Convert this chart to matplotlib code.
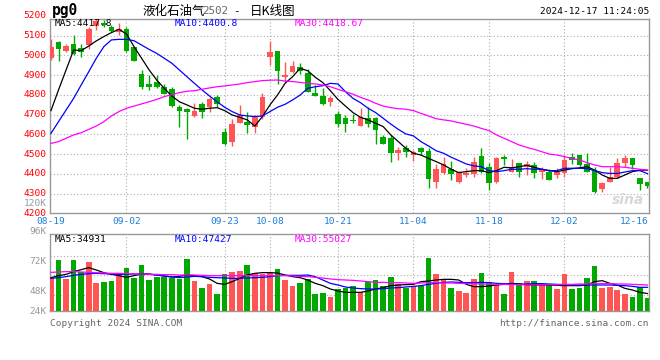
import matplotlib.pyplot as plt
from matplotlib.transforms import blended_transform_factory

# daily candles, 2024-08-19 .. 2024-12-17 (80 trading days)
opens = [4985, 5068, 5024, 5058, 5039, 5052, 5149, 5164, 5142, 5120,
         5134, 5041, 4906, 4855, 4865, 4838, 4828, 4740, 4727, 4693,
         4752, 4737, 4787, 4610, 4563, 4656, 4664, 4636, 4686, 4993,
         5022, 4892, 4914, 4939, 4912, 4809, 4794, 4766, 4701, 4684,
         4674, 4642, 4683, 4685, 4585, 4580, 4507, 4533, 4495, 4533,
         4516, 4360, 4406, 4425, 4360, 4394, 4399, 4492, 4436, 4360,
         4484, 4411, 4453, 4436, 4445, 4411, 4411, 4394, 4406, 4484,
         4495, 4450, 4419, 4321, 4360, 4382, 4457, 4479, 4377, 4357]
highs = [5081, 5074, 5058, 5103, 5058, 5145, 5189, 5179, 5154, 5162,
         5145, 5044, 4926, 4900, 4900, 4855, 4841, 4749, 4732, 4757,
         4766, 4791, 4799, 4630, 4676, 4749, 4715, 4698, 4808, 5074,
         5022, 4968, 4973, 4963, 4929, 4850, 4833, 4794, 4720, 4698,
         4703, 4732, 4737, 4690, 4597, 4597, 4538, 4546, 4521, 4538,
         4529, 4450, 4487, 4467, 4415, 4428, 4487, 4533, 4453, 4487,
         4495, 4474, 4457, 4467, 4462, 4436, 4423, 4428, 4495, 4504,
         4495, 4504, 4436, 4360, 4436, 4479, 4495, 4479, 4380, 4360]
lows = [4976, 4973, 5019, 5000, 4993, 5031, 5128, 5145, 5120, 5103,
        5019, 4973, 4831, 4825, 4833, 4804, 4737, 4636, 4575, 4690,
        4681, 4715, 4740, 4546, 4541, 4656, 4605, 4605, 4680, 4951,
        4855, 4867, 4909, 4906, 4816, 4794, 4749, 4744, 4639, 4614,
        4656, 4642, 4639, 4551, 4551, 4462, 4470, 4484, 4467, 4495,
        4327, 4327, 4399, 4369, 4355, 4382, 4386, 4403, 4318, 4352,
        4445, 4408, 4386, 4394, 4377, 4372, 4369, 4377, 4382, 4450,
        4436, 4411, 4304, 4309, 4358, 4377, 4436, 4423, 4318, 4327]
closes = [5041, 5031, 5047, 5007, 5019, 5134, 5176, 5155, 5125, 5132,
          5024, 4973, 4838, 4841, 4841, 4804, 4744, 4717, 4713, 4720,
          4715, 4777, 4754, 4551, 4652, 4698, 4647, 4686, 4787, 5019,
          4922, 4900, 4946, 4923, 4816, 4794, 4754, 4782, 4652, 4652,
          4666, 4686, 4652, 4622, 4551, 4504, 4521, 4512, 4512, 4512,
          4372, 4425, 4450, 4399, 4411, 4406, 4462, 4408, 4355, 4482,
          4474, 4436, 4411, 4450, 4406, 4419, 4369, 4411, 4470, 4470,
          4445, 4411, 4309, 4355, 4386, 4457, 4479, 4445, 4348, 4338]

ma5 = [4720, 4825, 4926, 5027, 5024, 5047, 5073, 5095, 5115, 5132,
       5108, 5044, 4985, 4926, 4875, 4833, 4794, 4765, 4749, 4732,
       4727, 4732, 4735, 4720, 4698, 4686, 4673, 4642, 4690, 4749,
       4799, 4858, 4892, 4934, 4922, 4889, 4862, 4821, 4777, 4743,
       4710, 4686, 4673, 4656, 4639, 4597, 4563, 4529, 4504, 4495,
       4478, 4462, 4445, 4423, 4406, 4411, 4416, 4416, 4406, 4416,
       4433, 4430, 4436, 4443, 4433, 4423, 4416, 4411, 4419, 4426,
       4430, 4436, 4419, 4394, 4377, 4377, 4394, 4411, 4419, 4418]
ma10 = [4605, 4664, 4723, 4782, 4850, 4917, 4985, 5044, 5078, 5081,
        5081, 5074, 5052, 5030, 5010, 4985, 4960, 4926, 4892, 4858,
        4825, 4794, 4765, 4737, 4715, 4698, 4693, 4690, 4693, 4715,
        4737, 4752, 4774, 4799, 4833, 4841, 4846, 4858, 4855, 4816,
        4782, 4760, 4732, 4710, 4681, 4652, 4625, 4602, 4592, 4563,
        4541, 4517, 4504, 4484, 4467, 4450, 4440, 4436, 4416, 4411,
        4416, 4423, 4423, 4426, 4423, 4423, 4416, 4416, 4428, 4428,
        4428, 4426, 4416, 4406, 4402, 4402, 4409, 4416, 4416, 4401]
ma30 = [4554, 4563, 4580, 4597, 4608, 4625, 4642, 4664, 4693, 4715,
        4732, 4743, 4754, 4765, 4777, 4791, 4801, 4811, 4818, 4821,
        4828, 4835, 4841, 4845, 4850, 4855, 4862, 4867, 4872, 4874,
        4875, 4870, 4867, 4863, 4858, 4855, 4850, 4841, 4828, 4816,
        4803, 4787, 4774, 4757, 4743, 4735, 4730, 4727, 4720, 4706,
        4693, 4679, 4673, 4668, 4659, 4651, 4642, 4630, 4619, 4597,
        4580, 4563, 4546, 4534, 4524, 4512, 4500, 4495, 4487, 4478,
        4470, 4456, 4445, 4436, 4436, 4436, 4433, 4428, 4423, 4419]

# volume in thousands
volume = [66.7, 102, 64.7, 102, 78.7, 98, 55.3, 58, 60, 73.3,
          86, 66, 92, 62, 68.7, 67.3, 66.7, 63.3, 104, 60,
          46, 54, 34, 74, 78, 80.7, 92, 76, 74, 76,
          84, 62, 50, 56, 64, 34, 36, 28.7, 44, 46,
          50, 38.7, 58, 62, 50, 68, 54, 46.7, 50.7, 50,
          106, 74, 62, 46, 40, 36, 64, 76, 57.3, 52,
          34, 78, 56, 60, 60, 52, 52, 44, 74, 44,
          46, 66, 90, 46, 48, 42, 34, 28, 48, 26]
vma5 = [66.7, 70.7, 73.3, 78.7, 82.7, 86.7, 82.0, 76.7, 73.3, 70.7,
        67.3, 70.7, 74.0, 74.0, 72.0, 70.0, 68.0, 69.3, 72.0, 70.7,
        68.7, 64.0, 55.3, 53.3, 58.7, 65.3, 72.0, 75.3, 76.7, 76.7,
        76.0, 72.0, 68.7, 66.7, 62.0, 55.3, 50.7, 44.0, 40.0, 37.3,
        37.3, 37.3, 40.0, 44.0, 46.7, 50.7, 52.0, 52.7, 53.3, 58.7,
        60.0, 62.0, 63.3, 63.3, 62.0, 53.3, 48.7, 48.7, 50.0, 52.0,
        53.3, 55.3, 54.0, 52.7, 52.0, 52.0, 52.0, 51.3, 50.7, 50.7,
        50.7, 52.0, 58.7, 60.7, 55.3, 52.0, 45.3, 42.0, 37.3, 34.9]
vma10 = [65.3, 66.7, 68.7, 71.3, 73.3, 74.7, 75.3, 74.7, 74.0, 73.3,
         73.3, 74.0, 74.0, 73.3, 72.0, 70.0, 68.0, 66.7, 68.0, 69.3,
         68.7, 67.3, 66.7, 66.0, 65.3, 65.3, 66.0, 66.7, 67.3, 68.7,
         70.7, 71.3, 71.3, 71.3, 72.0, 68.7, 62.0, 55.3, 52.0, 48.0,
         46.0, 44.7, 44.0, 44.0, 44.7, 46.0, 46.7, 48.0, 49.3, 50.7,
         53.3, 55.3, 57.3, 58.0, 57.3, 56.7, 56.7, 57.3, 56.7, 55.3,
         54.7, 54.0, 53.3, 54.0, 54.7, 54.7, 54.0, 53.3, 52.7, 52.0,
         52.0, 52.0, 52.0, 52.0, 52.0, 51.3, 50.7, 49.3, 47.3, 47.4]
vma30 = [77.3, 78.0, 78.7, 78.7, 78.0, 77.3, 76.7, 76.0, 75.3, 75.3,
         74.7, 74.0, 74.0, 73.3, 73.3, 72.7, 72.7, 72.0, 72.0, 72.0,
         71.3, 70.7, 70.7, 70.7, 70.7, 70.7, 70.7, 70.7, 70.7, 70.7,
         70.7, 70.7, 70.0, 69.3, 68.7, 67.3, 66.0, 64.0, 62.7, 62.0,
         61.3, 60.0, 58.7, 57.3, 57.3, 56.7, 56.7, 56.0, 55.3, 56.0,
         56.7, 56.7, 56.0, 56.0, 55.3, 54.7, 54.7, 54.0, 54.0, 53.3,
         53.3, 52.7, 52.7, 52.0, 52.0, 52.0, 52.7, 52.7, 53.3, 53.3,
         54.0, 54.0, 54.7, 54.7, 54.7, 54.0, 54.0, 53.3, 52.7, 52.0]

tick_idx = [0, 10, 23, 29, 38, 48, 58, 68, 78]
tick_labels = ['08-19', '09-02', '09-23', '10-08', '10-21', '11-04',
               '11-18', '12-02', '12-16']
price_levels = [4200, 4300, 4400, 4500, 4600, 4700, 4800, 4900, 5000, 5100, 5200]
vol_labels = [('120K', 203.5), ('96K', 231), ('72K', 261), ('48K', 291), ('24K', 311)]

RED = '#ff5555'
GREEN = '#00a800'
GRID = '#aaaaaa'
FRAME = '#999999'
MONO = 'DejaVu Sans Mono'
CJK = ['Noto Sans CJK SC', 'DejaVu Sans']
FS = 6.8

W, H = 660, 360


def fx(px):
    return px / W


def fy(px):
    return 1 - px / H


fig = plt.figure(figsize=(6.6, 3.6), dpi=100)
ax = fig.add_axes([fx(50), fy(213.3), fx(649) - fx(50), fy(19) - fy(213.3)])
axv = fig.add_axes([fx(50), fy(311), fx(649) - fx(50), fy(234) - fy(311)])

n = len(closes)
xs = list(range(n))
colors = [RED if c >= o else GREEN for o, c in zip(opens, closes)]
xlim = (-0.13, 79.2)

# candles
ax.vlines(xs, lows, highs, colors=colors, linewidth=1, zorder=3)
bottoms = [min(o, c) for o, c in zip(opens, closes)]
heights = [max(abs(c - o), 2) for o, c in zip(opens, closes)]
ax.bar(xs, heights, bottom=bottoms, width=0.75, color=colors, linewidth=0, zorder=4)
ax.plot(xs, ma5, color='black', lw=0.9, zorder=5)
ax.plot(xs, ma10, color='#0000ff', lw=0.9, zorder=5)
ax.plot(xs, ma30, color='#ff00ff', lw=0.9, zorder=5)
ax.set_xlim(*xlim)
ax.set_ylim(4200, 5184)

# volume
axv.bar(xs, volume, width=0.75, color=colors, linewidth=0, zorder=3)
axv.plot(xs, vma5, color='black', lw=0.9, zorder=5)
axv.plot(xs, vma10, color='#0000ff', lw=0.9, zorder=5)
axv.plot(xs, vma30, color='#ff00ff', lw=0.9, zorder=5)
axv.set_xlim(*xlim)
axv.set_ylim(0, 154)

for a in (ax, axv):
    a.set_xticks([])
    a.set_yticks([])
    for s in a.spines.values():
        s.set_color(FRAME)
        s.set_linewidth(1)
    for i in tick_idx[1:-1]:
        a.axvline(i, color=GRID, lw=0.8, ls=(0, (1, 2)), zorder=1)

for v in price_levels[1:-1]:
    ax.axhline(v, color=GRID, lw=0.8, ls=(0, (1, 2)), zorder=1)
for v in [33, 72, 111]:
    axv.axhline(v, color=GRID, lw=0.8, ls=(0, (1, 2)), zorder=1)

# price labels
tr = blended_transform_factory(ax.transAxes, ax.transData)
for v in price_levels:
    ax.text(-0.006, v, str(v), transform=tr, ha='right', va='center',
            color='red', fontsize=FS, family=MONO, clip_on=False)

# date labels
trx = blended_transform_factory(ax.transData, fig.transFigure)
for i, lab in zip(tick_idx, tick_labels):
    ha = 'right' if i == tick_idx[-1] else 'center'
    xx = xlim[1] if i == tick_idx[-1] else i
    ax.text(xx, fy(222), lab, transform=trx, ha=ha, va='center',
            color='#1c7fd6', fontsize=FS, family=MONO)

for lab, ypx in vol_labels:
    fig.text(fx(47), fy(ypx), lab, ha='right', va='center', color='#999999',
             fontsize=FS, family=MONO)

# headers
fig.text(fx(52), fy(11), 'pg0', ha='left', va='center', fontsize=10.5,
         family=MONO, weight='bold')
fig.text(fx(142), fy(11), '液化石油气', ha='left', va='center', fontsize=9, family=CJK)
fig.text(fx(202), fy(11), '2502', ha='left', va='center', fontsize=FS + 1,
         family=MONO, color='#666666')
fig.text(fx(233), fy(11), '-', ha='left', va='center', fontsize=FS + 1, family=MONO)
fig.text(fx(250), fy(11), '日K线图', ha='left', va='center', fontsize=9, family=CJK)
fig.text(fx(649), fy(12), '2024-12-17 11:24:05', ha='right', va='center',
         fontsize=FS, family=MONO)

fig.text(fx(55), fy(24), 'MA5:4417.8', color='black', fontsize=FS, family=MONO, va='center')
fig.text(fx(175), fy(24), 'MA10:4400.8', color='#0000ff', fontsize=FS, family=MONO, va='center')
fig.text(fx(295), fy(24), 'MA30:4418.67', color='#ff00ff', fontsize=FS, family=MONO, va='center')
fig.text(fx(55), fy(240), 'MA5:34931', color='black', fontsize=FS, family=MONO, va='center')
fig.text(fx(175), fy(240), 'MA10:47427', color='#0000ff', fontsize=FS, family=MONO, va='center')
fig.text(fx(295), fy(240), 'MA30:55027', color='#ff00ff', fontsize=FS, family=MONO, va='center')

fig.text(fx(50), fy(324), 'Copyright 2024 SINA.COM', color='#666666',
         fontsize=FS, family=MONO, va='center')
fig.text(fx(649), fy(324), 'http://finance.sina.com.cn', color='#666666',
         fontsize=FS, family=MONO, va='center', ha='right')
fig.text(fx(628), fy(200), 'sina', color='#d8d8d8', fontsize=10, style='italic',
         weight='bold', ha='center', va='center', zorder=0)

fig.savefig('out.png', dpi=100)
